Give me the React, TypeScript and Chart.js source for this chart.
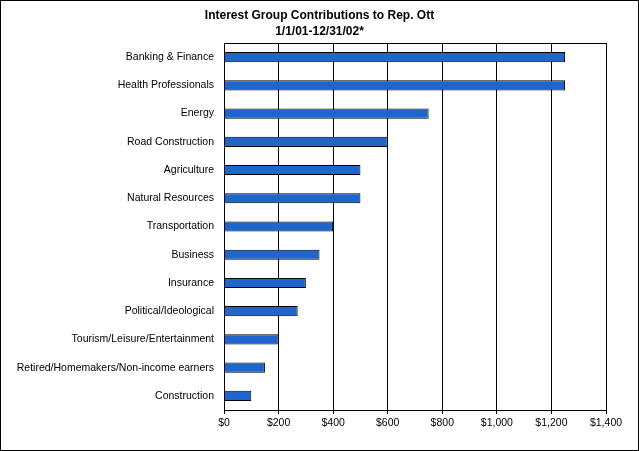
import { useEffect, useRef } from "react";
import { Chart, registerables } from "chart.js";
Chart.register(...registerables);

const categories = ["Banking & Finance","Health Professionals","Energy","Road Construction","Agriculture","Natural Resources","Transportation","Business","Insurance","Political/Ideological","Tourism/Leisure/Entertainment","Retired/Homemakers/Non-income earners","Construction"];
const values = [1250,1250,750,600,500,500,400,350,300,270,200,150,100];
const titleLines = ["Interest Group Contributions to Rep. Ott", "1/1/01-12/31/02*"];

export default function App() {
  const ref = useRef<HTMLCanvasElement>(null);
  useEffect(() => {
    document.body.style.margin = "0";
    const frame = {
      id: "frame",
      afterDraw(c: any) {
        const a = c.chartArea, ctx = c.ctx;
        ctx.save(); ctx.strokeStyle = "#000"; ctx.lineWidth = 1;
        ctx.strokeRect(Math.round(a.left) + 0.5, Math.round(a.top) + 0.5, Math.round(a.right - a.left), Math.round(a.bottom - a.top));
        ctx.fillStyle = "#000"; ctx.textAlign = "center"; ctx.textBaseline = "middle";
        ctx.font = "bold 12px Arial, 'Liberation Sans'";
        titleLines.forEach((t, i) => ctx.fillText(t, c.width / 2, 15 + i * 16));
        ctx.restore();
      },
    };
    const chart = new Chart(ref.current!, {
      type: "bar",
      data: { labels: categories, datasets: [{ data: values, backgroundColor: "#1F66CC", borderColor: "#000", borderWidth: 1, categoryPercentage: 1, barPercentage: 0.36 }] },
      options: {
        indexAxis: "y", animation: false, responsive: false,
        layout: { padding: { left: 0, right: 32, top: 42, bottom: 12 } },
        plugins: { legend: { display: false }, tooltip: { enabled: false }, title: { display: false } },
        scales: {
          x: {
            min: 0, max: 1400,
            ticks: { stepSize: 200, color: "#000", font: { family: "Arial, Liberation Sans", size: 10.5 }, callback: (v: any) => "$" + Number(v).toLocaleString("en-US") },
            grid: { color: "#000", tickLength: 4 },
            border: { color: "#000" },
            afterFit: (s: any) => { s.height = 28; },
          },
          y: {
            ticks: { color: "#000", font: { family: "Arial, Liberation Sans", size: 10.5 }, padding: 2 },
            grid: { display: false },
            border: { color: "#000" },
            afterFit: (s: any) => { s.width = 223; },
          },
        },
      },
      plugins: [frame],
    } as any);
    return () => chart.destroy();
  }, []);
  return (
    <div style={{ width: 637, height: 449, border: "1px solid #000", background: "#fff" }}>
      <canvas ref={ref} width={637} height={449} style={{ display: "block" }} />
    </div>
  );
}
